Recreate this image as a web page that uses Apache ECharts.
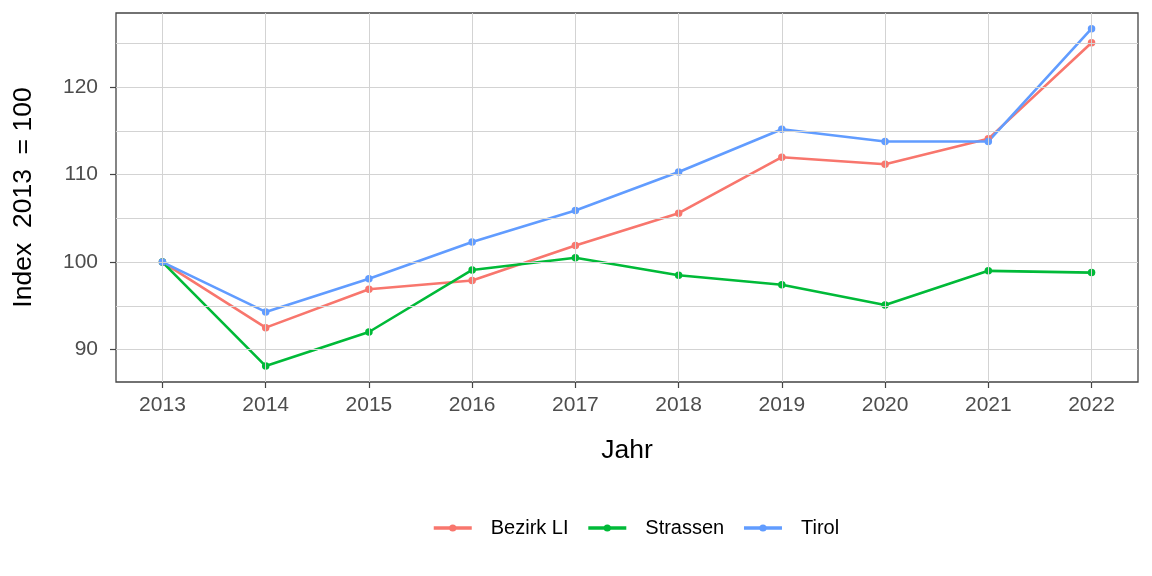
<!DOCTYPE html>
<html>
<head>
<meta charset="utf-8">
<script src="https://cdn.jsdelivr.net/npm/echarts@6/dist/echarts.min.js"></script>
<style>
  html, body { margin: 0; padding: 0; background: #fff; }
  #chart { width: 1152px; height: 576px; }
</style>
</head>
<body>
<div id="chart"></div>
<script>
var years = [2013, 2014, 2015, 2016, 2017, 2018, 2019, 2020, 2021, 2022];
var bezirk = [100, 92.5, 96.9, 97.9, 101.9, 105.6, 112.0, 111.2, 114.1, 125.1];
var strassen = [100, 88.1, 92.0, 99.1, 100.5, 98.5, 97.4, 95.1, 99.0, 98.8];
var tirol = [100, 94.3, 98.1, 102.3, 105.9, 110.3, 115.2, 113.8, 113.8, 126.7];
var yTicks = [90, 100, 110, 120];
var yGrid = [90, 95, 100, 105, 110, 115, 120, 125];

var colors = ['#F8766D', '#00BA38', '#619CFF'];
var names = ['Bezirk LI', 'Strassen', 'Tirol'];
var values = [bezirk, strassen, tirol];

function pairs(arr) {
    var out = [];
    for (var i = 0; i < years.length; i++) {
        out.push([years[i], arr[i]]);
    }
    return out;
}

// gridlines drawn as marklines so they can sit on the year / 5-unit positions
var gridLines = [];
for (var i = 0; i < yGrid.length; i++) gridLines.push({ yAxis: yGrid[i] });
for (var j = 0; j < years.length; j++) gridLines.push({ xAxis: years[j] });

var series = [{
    name: 'grid',
    type: 'line',
    data: [],
    z: 1,
    silent: true,
    markLine: {
        silent: true,
        symbol: 'none',
        animation: false,
        label: { show: false },
        lineStyle: { color: '#d3d3d3', width: 1, type: 'solid' },
        emphasis: { disabled: true },
        data: gridLines
    }
}];
for (var k = 0; k < names.length; k++) {
    series.push({
        name: names[k],
        type: 'line',
        data: pairs(values[k]),
        z: 3,
        symbol: 'circle',
        symbolSize: 7.5,
        showSymbol: true,
        color: colors[k],
        lineStyle: { width: 2.6, color: colors[k] },
        itemStyle: { color: colors[k], borderWidth: 0 }
    });
}

var myChart = echarts.init(document.getElementById('chart'));
myChart.setOption({
    animation: false,
    backgroundColor: '#fff',
    grid: {
        left: 116,
        top: 13,
        right: 14,
        bottom: 194,
        show: true,
        borderColor: '#444',
        borderWidth: 1.3,
        containLabel: false
    },
    legend: {
        data: names,
        top: 513,
        left: 427,
        itemWidth: 38,
        itemHeight: 9,
        itemGap: 18,
        lineStyle: { width: 3.5 },
        textStyle: { color: '#000', fontSize: 20, fontFamily: 'Arial', padding: [0, 0, 0, 14] }
    },
    xAxis: {
        type: 'value',
        min: 2012.55,
        max: 2022.45,
        name: 'Jahr',
        nameLocation: 'middle',
        nameGap: 55,
        nameTextStyle: { color: '#000', fontSize: 26.5, fontFamily: 'Arial' },
        axisLine: { show: false },
        axisTick: { show: true, length: 6, customValues: years, lineStyle: { color: '#444', width: 1.2 } },
        axisLabel: {
            customValues: years, margin: 13, color: '#4d4d4d', fontSize: 21, fontFamily: 'Arial',
            formatter: function (v) { return String(v); }
        },
        splitLine: { show: false }
    },
    yAxis: {
        type: 'value',
        min: 86.28,
        max: 128.5,
        name: 'Index  2013  = 100',
        nameLocation: 'middle',
        nameGap: 79,
        nameTextStyle: { color: '#000', fontSize: 26.5, fontFamily: 'Arial' },
        axisLine: { show: false },
        axisTick: { show: true, length: 6, customValues: yTicks, lineStyle: { color: '#444', width: 1.2 } },
        axisLabel: { customValues: yTicks, margin: 18, color: '#4d4d4d', fontSize: 21, fontFamily: 'Arial' },
        splitLine: { show: false }
    },
    series: series
});
</script>
</body>
</html>
